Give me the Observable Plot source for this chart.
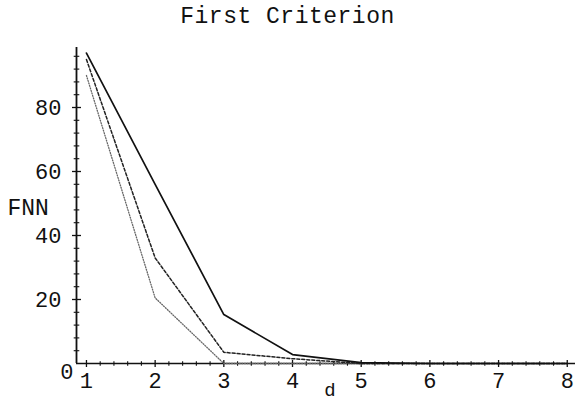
<!DOCTYPE html>
<html>
<head>
<meta charset="utf-8">
<script src="https://cdn.jsdelivr.net/npm/d3@7"></script>
<script src="https://cdn.jsdelivr.net/npm/@observablehq/plot@0.6"></script>
<style>
  html, body { margin: 0; padding: 0; background: #fff; }
  #title {
    width: 575px; height: 36px; padding-top: 4px; line-height: 36px;
    text-align: center; font: 23px "Liberation Mono", monospace;
    color: #111; letter-spacing: 0.5px;
  }
</style>
</head>
<body>
<div id="title">First Criterion</div>
<div id="chart"></div>
<script>
// embedding dimension d and false nearest neighbours (%) for three runs
const dims = [1, 2, 3, 4, 5, 6, 7, 8];
const fnnSolid = [97, 56, 15.3, 2.8, 0.3, 0, 0, 0];
const fnnDashed = [95, 33, 3.5, 1.5, 0, 0, 0, 0];
const fnnDotted = [90, 20.5, 0, 0, 0, 0, 0, 0];

// tick labels
const xTickLabels = [1, 2, 3, 4, 5, 6, 7, 8];
const yTickLabels = [20, 40, 60, 80];

const xDomain = [0.855, 8.12];
const yDomain = [0, 98.75];

const series = [
  {name: "solid", values: fnnSolid},
  {name: "dashed", values: fnnDashed},
  {name: "dotted", values: fnnDotted}
];
const rows = series.flatMap(s => dims.map((d, i) => ({series: s.name, d, fnn: s.values[i]})));

// short line segments used as tick marks crossing the axes
const vTick = {draw(ctx, size) { const r = Math.sqrt(size / Math.PI); ctx.moveTo(0, -r); ctx.lineTo(0, r); }};
const hTick = {draw(ctx, size) { const r = Math.sqrt(size / Math.PI); ctx.moveTo(-r, 0); ctx.lineTo(r, 0); }};

const xMajor = xTickLabels;
const xMinor = d3.range(1, 8.0001, 0.2).filter(v => Math.abs(v - Math.round(v)) > 1e-6);
const yMajor = yTickLabels;
const yMinor = d3.range(4, 98, 4).filter(v => v % 20 !== 0);

const font = "Liberation Mono, monospace";

const chart = Plot.plot({
  width: 575,
  height: 364,
  marginTop: 7,
  marginBottom: 41,
  marginLeft: 76,
  marginRight: 0,
  x: {domain: xDomain},
  y: {domain: yDomain},
  style: {fontFamily: font, fontSize: "22px", color: "#111", background: "#fff", overflow: "visible"},
  marks: [
    // axis lines
    Plot.ruleY([0], {stroke: "#111", strokeWidth: 1.6}),
    Plot.ruleX([xDomain[0]], {stroke: "#111", strokeWidth: 1.8}),
    // ticks
    Plot.dot(xMajor, {x: d => d, y: 0, symbol: vTick, r: 3.5, fill: "none", stroke: "#111", strokeWidth: 1.3}),
    Plot.dot(xMinor, {x: d => d, y: 0, symbol: vTick, r: 2.2, fill: "none", stroke: "#111", strokeWidth: 1.1}),
    Plot.dot(yMajor, {x: xDomain[0], y: d => d, symbol: hTick, r: 4.5, fill: "none", stroke: "#111", strokeWidth: 1.3}),
    Plot.dot(yMinor, {x: xDomain[0], y: d => d, symbol: hTick, r: 2.8, fill: "none", stroke: "#111", strokeWidth: 1.1}),
    // tick labels
    Plot.axisX({ticks: xTickLabels, tickSize: 0, tickPadding: 9, fontSize: 22, label: null, fill: "#111"}),
    Plot.axisY({ticks: yTickLabels, tickSize: 0, tickPadding: 15, fontSize: 22, label: null, fill: "#111"}),
    Plot.text(["0"], {x: xDomain[0], y: 0, text: d => d, dx: -3, dy: 8, textAnchor: "end", fontSize: 22, fill: "#111"}),
    // axis titles
    Plot.text(["FNN"], {frameAnchor: "left", text: d => d, dx: -69, dy: 2, textAnchor: "start", fontSize: 23, fill: "#111"}),
    Plot.text(["d"], {frameAnchor: "bottom", text: d => d, dx: 4, dy: 19, lineAnchor: "top", fontSize: 19, fill: "#111"}),
    // curves
    Plot.line(rows.filter(r => r.series === "dotted"), {x: "d", y: "fnn", stroke: "#666", strokeWidth: 1.3, strokeDasharray: "1,1.6"}),
    Plot.line(rows.filter(r => r.series === "dashed"), {x: "d", y: "fnn", stroke: "#222", strokeWidth: 1.5, strokeDasharray: "3,2"}),
    Plot.line(rows.filter(r => r.series === "solid"), {x: "d", y: "fnn", stroke: "#111", strokeWidth: 1.7})
  ]
});
document.getElementById("chart").appendChild(chart);
</script>
</body>
</html>
